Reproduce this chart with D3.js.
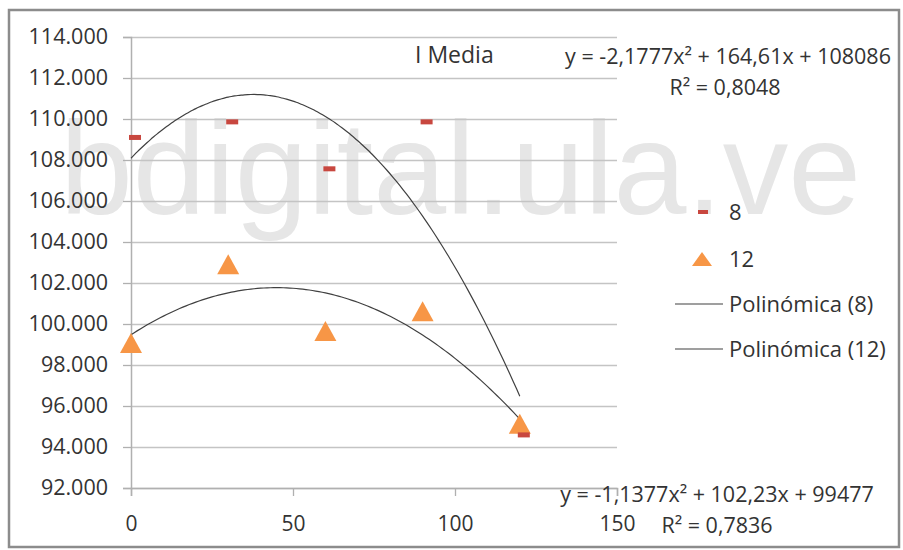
<!DOCTYPE html>
<html>
<head>
<meta charset="utf-8">
<script src="https://cdn.jsdelivr.net/npm/d3@7"></script>
<style>
  body { margin: 0; background: #fff; }
  text { font-family: "Open Sans", sans-serif; fill: #333; }
</style>
</head>
<body>
<svg id="chart" width="903" height="550"></svg>
<script>
// data
var xValues = [0, 30, 60, 90, 120];
var serie8 = [109100, 109860, 107570, 109860, 94590];
var serie12 = [99070, 102920, 99660, 100620, 95140];
var yTicks = [92000, 94000, 96000, 98000, 100000, 102000, 104000, 106000, 108000, 110000, 112000, 114000];
var xTicks = [0, 50, 100, 150];
// trendline coefficients (c0, c1, c2) as printed on the chart
var trend8 = [108086, 164.61, -2.1777];
var trend12 = [99477, 102.23, -1.1377];
var r2_8 = 0.8048, r2_12 = 0.7836;
var legendNames = ["8", "12", "Polinómica (8)", "Polinómica (12)"];

// dimensions
var margin = {top: 37, left: 131},
    width = 486,
    height = 451;

var svg = d3.select("#chart");

// outer frame
svg.append("rect")
    .attr("x", 9).attr("y", 10)
    .attr("width", 890).attr("height", 537)
    .attr("fill", "#fff")
    .attr("stroke", "#8c8c8c")
    .attr("stroke-width", 2.5);

// watermark
svg.append("text")
    .attr("x", 60).attr("y", 214)
    .style("font-family", "'Liberation Sans', Arial, sans-serif")
    .style("font-size", "131px")
    .style("fill", "#e6e6e6")
    .text("bdigital.ula.ve");

var g = svg.append("g")
    .attr("transform", "translate(" + margin.left + "," + margin.top + ")");

var x = d3.scaleLinear().domain([0, 150]).range([0, width]);
var y = d3.scaleLinear().domain([92000, 114000]).range([height, 0]);

var es = d3.formatLocale({decimal: ",", thousands: ".", grouping: [3], currency: ["", ""]});
var fmtY = es.format(",.0f");

// gridlines
g.append("g")
    .attr("class", "grid")
    .call(d3.axisLeft(y).tickValues(yTicks).tickSize(-width).tickFormat(""))
    .call(function(s) {
      s.select(".domain").remove();
      s.selectAll("line").attr("stroke", "#c4c4c4").attr("stroke-width", 1.3);
    });

// y axis
g.append("g")
    .call(d3.axisLeft(y).tickValues(yTicks).tickSize(8).tickFormat(fmtY))
    .call(function(s) {
      s.select(".domain").attr("stroke", "#b0b0b0").attr("stroke-width", 1.5);
      s.selectAll("line").attr("stroke", "#b0b0b0").attr("stroke-width", 1.3);
      s.selectAll("text").attr("x", -23).style("font-size", "21.5px").style("fill", "#333");
    });

// x axis
g.append("g")
    .attr("transform", "translate(0," + height + ")")
    .call(d3.axisBottom(x).tickValues(xTicks).tickSize(8))
    .call(function(s) {
      s.select(".domain").attr("stroke", "#b0b0b0").attr("stroke-width", 1.5);
      s.selectAll("line").attr("stroke", "#b0b0b0").attr("stroke-width", 1.3);
      s.selectAll("text").attr("y", 43).attr("dy", null).style("font-size", "21px").style("fill", "#333");
    });

// trendlines
function poly(c) {
  return function(v) { return c[0] + c[1] * v + c[2] * v * v; };
}
var line = d3.line()
    .x(function(d) { return x(d[0]); })
    .y(function(d) { return y(d[1]); })
    .curve(d3.curveMonotoneX);
var xs = d3.range(0, 120.5, 1);
[trend8, trend12].forEach(function(c) {
  var f = poly(c);
  g.append("path")
      .datum(xs.map(function(v) { return [v, f(v)]; }))
      .attr("fill", "none")
      .attr("stroke", "#404040")
      .attr("stroke-width", 1.2)
      .attr("d", line);
});

// markers
var tri = "M0,-10L11,10L-11,10Z";
g.selectAll(".tri")
    .data(xValues)
  .enter().append("path")
    .attr("class", "tri")
    .attr("d", tri)
    .attr("fill", "#f79646")
    .attr("transform", function(d, i) { return "translate(" + x(d) + "," + y(serie12[i]) + ")"; });

g.selectAll(".dash")
    .data(xValues)
  .enter().append("rect")
    .attr("class", "dash")
    .attr("x", function(d) { return x(d) - 2; })
    .attr("y", function(d, i) { return y(serie8[i]) - 2.5; })
    .attr("width", 12)
    .attr("height", 5)
    .attr("fill", "#c8473f");

// title
svg.append("text")
    .attr("x", 415).attr("y", 63)
    .style("font-size", "23px")
    .text("I Media");

// equations
var num = function(v, d) { return v.toFixed(d).replace(".", ","); };
function eqText(c, d1, d2) {
  return "y = " + num(c[2], d2) + "x² + " + num(c[1], d1) + "x + " + c[0];
}
svg.append("text").attr("x", 728).attr("y", 64).attr("text-anchor", "middle")
    .style("font-size", "21.5px").text(eqText(trend8, 2, 4));
svg.append("text").attr("x", 725).attr("y", 95).attr("text-anchor", "middle")
    .style("font-size", "21.5px").text("R² = " + num(r2_8, 4));
svg.append("text").attr("x", 717).attr("y", 502).attr("text-anchor", "middle")
    .style("font-size", "21.5px").text(eqText(trend12, 2, 4));
svg.append("text").attr("x", 717).attr("y", 533).attr("text-anchor", "middle")
    .style("font-size", "21.5px").text("R² = " + num(r2_12, 4));

// legend
var legend = svg.append("g");
var rows = [212, 259, 304, 349];
legend.append("rect").attr("x", 698).attr("y", rows[0] - 2).attr("width", 10).attr("height", 4).attr("fill", "#c8473f");
legend.append("path").attr("d", "M0,-7L10,7L-10,7Z").attr("fill", "#f79646")
    .attr("transform", "translate(702," + rows[1] + ")");
legend.append("line").attr("x1", 675).attr("x2", 723).attr("y1", rows[2]).attr("y2", rows[2])
    .attr("stroke", "#404040").attr("stroke-width", 1.2);
legend.append("line").attr("x1", 675).attr("x2", 723).attr("y1", rows[3]).attr("y2", rows[3])
    .attr("stroke", "#404040").attr("stroke-width", 1.2);
legend.selectAll(".lt")
    .data(legendNames)
  .enter().append("text")
    .attr("class", "lt")
    .attr("x", 729)
    .attr("y", function(d, i) { return rows[i] + 8; })
    .style("font-size", "22px")
    .text(function(d) { return d; });
</script>
</body>
</html>
